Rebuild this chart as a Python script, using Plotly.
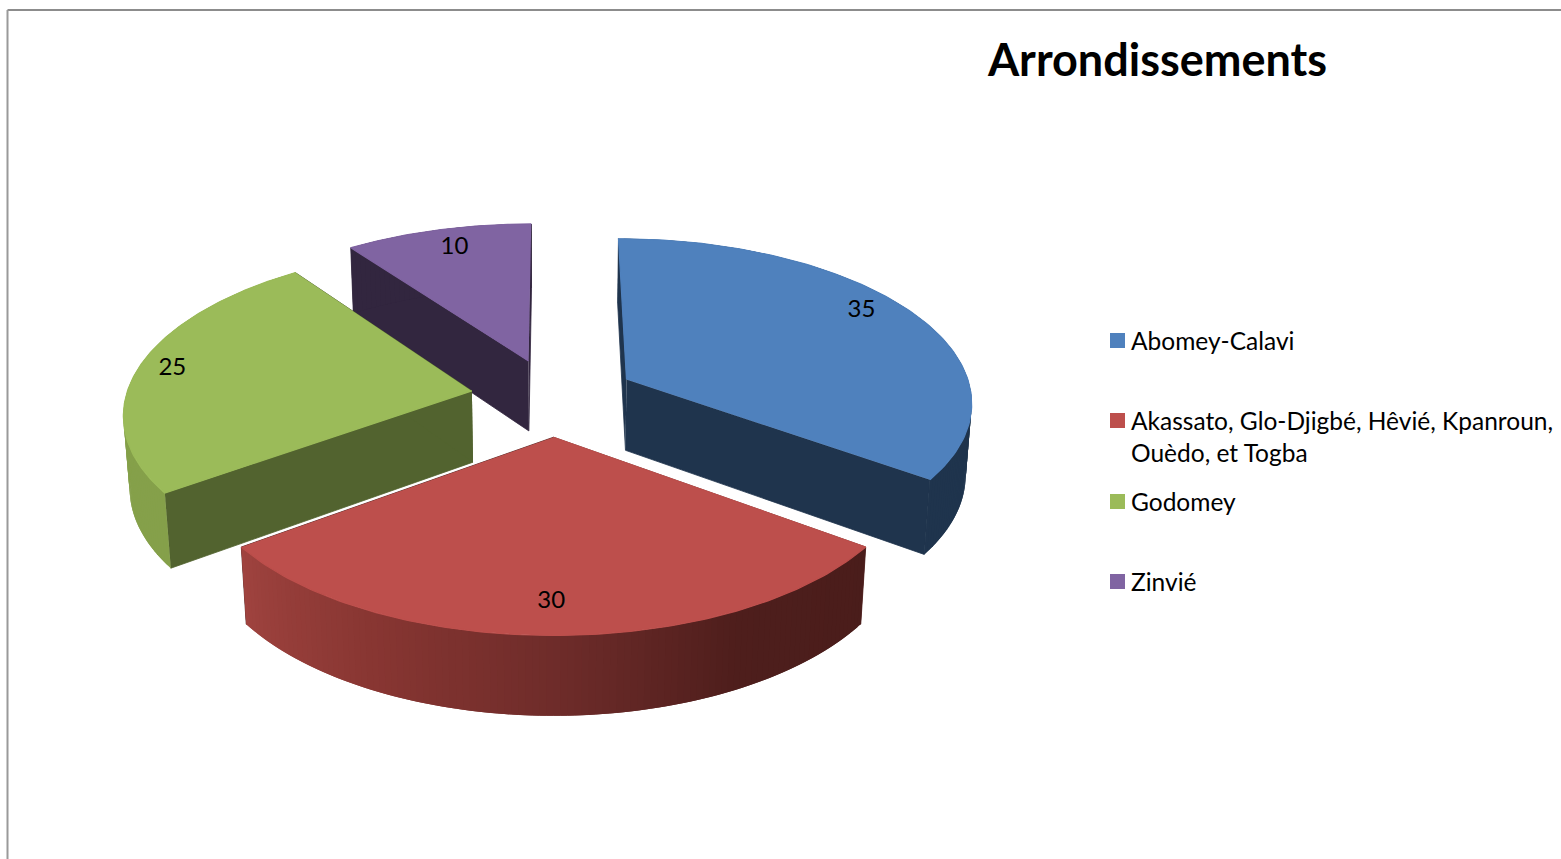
import numpy as np
import plotly.graph_objects as go

title = "Arrondissements"
categories = ["Abomey-Calavi", "Akassato, Glo-Djigbé, Hêvié, Kpanroun,<br>Ouèdo, et Togba", "Godomey", "Zinvié"]
values = [35, 30, 25, 10]
top_colors = ["#4f81bd", "#bd4f4c", "#9bbb59", "#8064a2"]
radial_colors = ["#1f344d", "#4d1e1c", "#52632f", "#32263f"]
wall_colors = [["#1f344d", "#1f344d"], ["#4a1d1b", "#4e1e1c", "#6f2c2a", "#883632", "#9f433f"],
               ["#85a04a", "#85a04a"], ["#32263f", "#32263f"]]
label_radius = [0.885, 0.838, 0.905, 0.865]
label_turn = [-6, 0.4, 1, 1.2]
legend_y = [340.5, 420.5, 501.5, 581.5]
draw_order = [3, 0, 2, 1]

# projection of the tilted pie onto the page
CX, CY, AX, AY, TILT, PULL, DROP, DROP_DEPTH = 553.5, 397, 346, 162.5, 0.125, 0.24, 72.5, 0.0145
LABEL_DROP = 3
FONT = "Lato"


def project(x, y, low=False):
    d = 1 - TILT * np.asarray(y) + (DROP_DEPTH if low else 0)
    return CX + AX * np.asarray(x) / d, CY + (AY * np.asarray(y) + (DROP if low else 0)) / d


def polar(theta, r, mid):
    t, m = np.radians(theta), np.radians(mid)
    return r * np.sin(t) + PULL * np.sin(m), -r * np.cos(t) - PULL * np.cos(m)


def hex_rgb(c):
    return np.array([int(c[i:i + 2], 16) for i in (1, 3, 5)], dtype=float)


def blend(stops, f):
    p = f * (len(stops) - 1)
    i = min(int(p), len(stops) - 2)
    col = hex_rgb(stops[i]) * (1 - (p - i)) + hex_rgb(stops[i + 1]) * (p - i)
    return "rgb(%d,%d,%d)" % tuple(col.round())


fig = go.Figure()


def poly(xs, ys, color, stroke=0):
    fig.add_trace(go.Scatter(x=list(xs), y=list(ys), mode="lines", fill="toself", fillcolor=color,
                             line=dict(color=color, width=stroke), hoverinfo="skip", showlegend=False))


def wall(theta, mid, color):
    p0, p1 = polar(theta, 1, mid)
    tx, ty = project(p0, p1)
    lx, ly = project(p0[::-1], p1[::-1], low=True)
    poly(np.r_[tx, lx], np.r_[ty, ly], color)


total = sum(values)
ends = np.cumsum(values) / total * 360
starts = ends - np.array(values) / total * 360
mids = (starts + ends) / 2

for i in draw_order:
    a, b, m = starts[i], ends[i], mids[i]
    apex = polar(m, 0, m)
    # radial faces
    for edge in (a, b):
        p = polar(edge, 1, m)
        tx, ty = project([apex[0], p[0]], [apex[1], p[1]])
        lx, ly = project([p[0], apex[0]], [p[1], apex[1]], low=True)
        poly(np.r_[tx, lx], np.r_[ty, ly], radial_colors[i], stroke=0.8)
    # outer wall in narrow overlapping strips so it can be shaded without seams
    stops = wall_colors[i]
    n = int(b - a)
    th = np.linspace(a, b, n + 1)
    for k in range(n):
        wall(np.linspace(th[k], th[min(k + 2, n)], 5), m, blend(stops, (k + 0.5) / n))
    # top face
    arc = np.linspace(a, b, 121)
    px, py = polar(arc, 1, m)
    tx, ty = project(np.r_[apex[0], px], np.r_[apex[1], py])
    poly(tx, ty, top_colors[i], stroke=1.2)

# data labels
lx, ly = [], []
for i in range(len(values)):
    p = polar(mids[i] + label_turn[i], label_radius[i], mids[i])
    x, y = project(p[0], p[1])
    lx.append(float(x))
    ly.append(float(y) + LABEL_DROP)
fig.add_trace(go.Scatter(x=lx, y=ly, mode="text", text=[str(v) for v in values],
                         textposition="middle center", textfont=dict(family=FONT, size=24, color="black"),
                         hoverinfo="skip", showlegend=False))

# legend
fig.add_trace(go.Scatter(x=[1117.5] * 4, y=legend_y, mode="markers",
                         marker=dict(symbol="square", size=15, color=top_colors, line=dict(width=0)),
                         hoverinfo="skip", showlegend=False))
annotations = []
for name, y in zip(categories, legend_y):
    for j, line in enumerate(name.split("<br>")):
        annotations.append(dict(x=1131, y=y + 32 * j, xref="x", yref="y", text=line, showarrow=False,
                                xanchor="left", yanchor="middle", xshift=-2, yshift=0.5,
                                font=dict(family=FONT, size=24.5, color="black")))

fig.update_layout(
    width=1561, height=859, margin=dict(l=0, r=0, t=0, b=0), autosize=False,
    paper_bgcolor="white", plot_bgcolor="white", showlegend=False,
    title=dict(text="<b>%s</b>" % title, x=1157.5 / 1561, y=1 - 60 / 859, xanchor="center", yanchor="middle",
               font=dict(family=FONT, size=45, color="black")),
    xaxis=dict(range=[0, 1561], visible=False, fixedrange=True),
    yaxis=dict(range=[859, 0], visible=False, fixedrange=True),
    annotations=annotations,
    shapes=[dict(type="line", xref="x", yref="y", x0=7.5, x1=1561, y0=10, y1=10, line=dict(color="#8c8c8c", width=2)),
            dict(type="line", xref="x", yref="y", x0=7.5, x1=7.5, y0=10, y1=859, line=dict(color="#9a9a9a", width=2))],
)
fig.write_html("out.html", config=dict(displayModeBar=False),
               post_script="document.body.style.margin='0';document.documentElement.style.overflow='hidden';")
